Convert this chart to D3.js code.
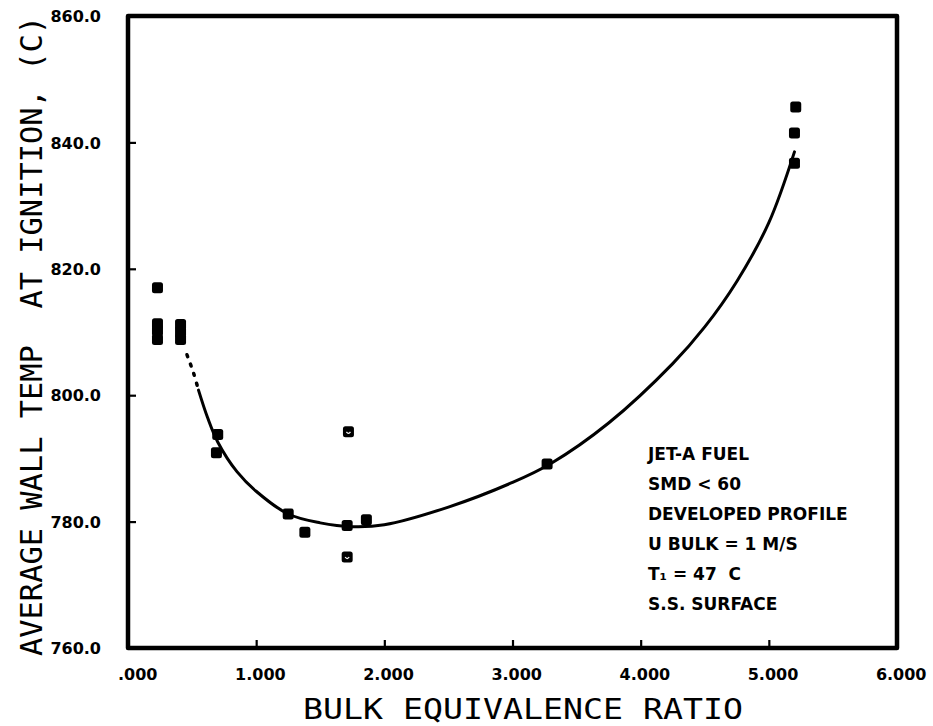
<!DOCTYPE html>
<html>
<head>
<meta charset="utf-8">
<script src="https://cdn.jsdelivr.net/npm/d3@7"></script>
<style>
  html, body { margin: 0; padding: 0; background: #fff; }
  svg { display: block; }
  text { white-space: pre; }
</style>
</head>
<body>
<svg id="chart" width="933" height="726"></svg>
<script>
const W = 933;
const H = 726;

// axis ticks
const xTicks = [0, 1, 2, 3, 4, 5, 6];
const xTickLabels = ['.000', '1.000', '2.000', '3.000', '4.000', '5.000', '6.000'];
const yTicks = [760, 780, 800, 820, 840, 860];
const yTickLabels = ['760.0', '780.0', '800.0', '820.0', '840.0', '860.0'];

// measured points (bulk equivalence ratio, wall temp C)
const pointX = [0.23, 0.23, 0.23, 0.23, 0.41, 0.41, 0.41, 0.70, 0.69, 1.25, 1.38, 1.71, 1.72, 1.71, 1.86, 3.27, 5.21, 5.20, 5.20];
const pointY = [817.0, 811.3, 810.2, 808.8, 811.2, 810.0, 808.8, 793.8, 790.9, 781.2, 778.3, 779.4, 794.2, 774.4, 780.3, 789.1, 845.6, 841.5, 836.7];
const pointOpen = [0, 0, 0, 0, 0, 0, 0, 0, 0, 0, 0, 0, 1, 1, 0, 0, 0, 0, 0];

// fitted curve
const curveX = [0.55, 0.62, 0.70, 0.85, 1.00, 1.25, 1.50, 1.75, 2.00, 2.50, 3.00, 3.30, 3.75, 4.25, 4.50, 4.75, 5.00, 5.20];
const curveY = [800.8, 796.5, 792.6, 787.9, 784.8, 781.2, 779.8, 779.2, 779.5, 782.3, 786.2, 789.2, 795.6, 805.0, 810.8, 818.0, 827.3, 838.5];

// dotted lead-in of the curve
const leadX = [0.46, 0.51, 0.55];
const leadY = [806.4, 803.6, 800.8];

const legendLines = ['JET-A FUEL', 'SMD < 60', 'DEVELOPED PROFILE', 'U BULK = 1 M/S', 'T\u2081 = 47  C', 'S.S. SURFACE'];

const svg = d3.select('#chart');

const x = d3.scaleLinear().domain([0, 6]).range([128, 897]);
const y = d3.scaleLinear().domain([760, 860]).range([648, 16]);

const INK = '#000';

// frame
svg.append('rect')
  .attr('x', x(0))
  .attr('y', y(860))
  .attr('width', x(6) - x(0))
  .attr('height', y(760) - y(860))
  .attr('fill', 'none')
  .attr('stroke', INK)
  .attr('stroke-width', 4.5)
  .attr('stroke-linejoin', 'round');

// bottom axis
const xAxis = d3.axisBottom(x)
  .tickValues(xTicks)
  .tickSizeInner(-8)
  .tickSizeOuter(0)
  .tickFormat((d, i) => xTickLabels[i]);

const gx = svg.append('g')
  .attr('transform', `translate(0,${y(760)})`)
  .call(xAxis);
gx.select('.domain').remove();
gx.selectAll('.tick line')
  .attr('stroke', INK)
  .attr('stroke-width', 2.2)
  .filter(d => d === 0 || d === 6).remove();
gx.selectAll('.tick text')
  .attr('fill', INK)
  .attr('font-family', 'DejaVu Sans')
  .attr('font-weight', 'bold')
  .attr('font-size', 16)
  .attr('text-anchor', 'end')
  .attr('x', 29)
  .attr('y', 32)
  .attr('dy', 0);

// left axis
const yAxis = d3.axisLeft(y)
  .tickValues(yTicks)
  .tickSizeInner(-8)
  .tickSizeOuter(0)
  .tickFormat((d, i) => yTickLabels[i]);

const gy = svg.append('g')
  .attr('transform', `translate(${x(0)},0)`)
  .call(yAxis);
gy.select('.domain').remove();
gy.selectAll('.tick line')
  .attr('stroke', INK)
  .attr('stroke-width', 2.2)
  .filter(d => d === 760 || d === 860).remove();
gy.selectAll('.tick text')
  .attr('fill', INK)
  .attr('font-family', 'DejaVu Sans')
  .attr('font-weight', 'bold')
  .attr('font-size', 16)
  .attr('x', -27)
  .attr('dy', '0.36em');

// axis titles
svg.append('text')
  .attr('x', 523)
  .attr('y', 719)
  .attr('text-anchor', 'middle')
  .attr('font-family', 'DejaVu Sans Mono')
  .attr('font-size', 29)
  .attr('textLength', 440)
  .attr('lengthAdjust', 'spacingAndGlyphs')
  .attr('fill', INK)
  .text('BULK EQUIVALENCE RATIO');

svg.append('text')
  .attr('transform', 'translate(42,336) rotate(-90)')
  .attr('text-anchor', 'middle')
  .attr('font-family', 'DejaVu Sans Mono')
  .attr('font-size', 30)
  .attr('textLength', 640)
  .attr('lengthAdjust', 'spacingAndGlyphs')
  .attr('fill', INK)
  .text('AVERAGE WALL TEMP  AT IGNITION, (C)');

// fitted curve
const line = d3.line()
  .x(d => x(d[0]))
  .y(d => y(d[1]))
  .curve(d3.curveCatmullRom.alpha(0.5));

svg.append('path')
  .datum(curveX.map((v, i) => [v, curveY[i]]))
  .attr('d', line)
  .attr('fill', 'none')
  .attr('stroke', INK)
  .attr('stroke-width', 3)
  .attr('stroke-linecap', 'round');

svg.append('path')
  .datum(leadX.map((v, i) => [v, leadY[i]]))
  .attr('d', line)
  .attr('fill', 'none')
  .attr('stroke', INK)
  .attr('stroke-width', 3.5)
  .attr('stroke-linecap', 'round')
  .attr('stroke-dasharray', '2,8');

// data squares
const S = 11;
const pts = pointX.map((v, i) => ({ x: v, y: pointY[i], open: pointOpen[i] }));

svg.append('g')
  .selectAll('rect')
  .data(pts)
  .join('rect')
  .attr('x', d => x(d.x) - S / 2)
  .attr('y', d => y(d.y) - S / 2)
  .attr('width', S)
  .attr('height', S)
  .attr('rx', 2.5)
  .attr('fill', INK);

// the two lighter marks have a small white notch
svg.append('g')
  .selectAll('path')
  .data(pts.filter(d => d.open))
  .join('path')
  .attr('d', d => {
    const cx = x(d.x), cy = y(d.y);
    return `M${cx - 2},${cy} Q${cx},${cy + 3} ${cx + 2},${cy}`;
  })
  .attr('fill', 'none')
  .attr('stroke', '#fff')
  .attr('stroke-width', 1.3);

// legend text
svg.append('g')
  .selectAll('text')
  .data(legendLines)
  .join('text')
  .attr('x', 648)
  .attr('y', (d, i) => 460 + i * 30)
  .attr('font-family', 'DejaVu Sans')
  .attr('font-weight', 'bold')
  .attr('font-size', 17)
  .attr('fill', INK)
  .text(d => d);
</script>
</body>
</html>
